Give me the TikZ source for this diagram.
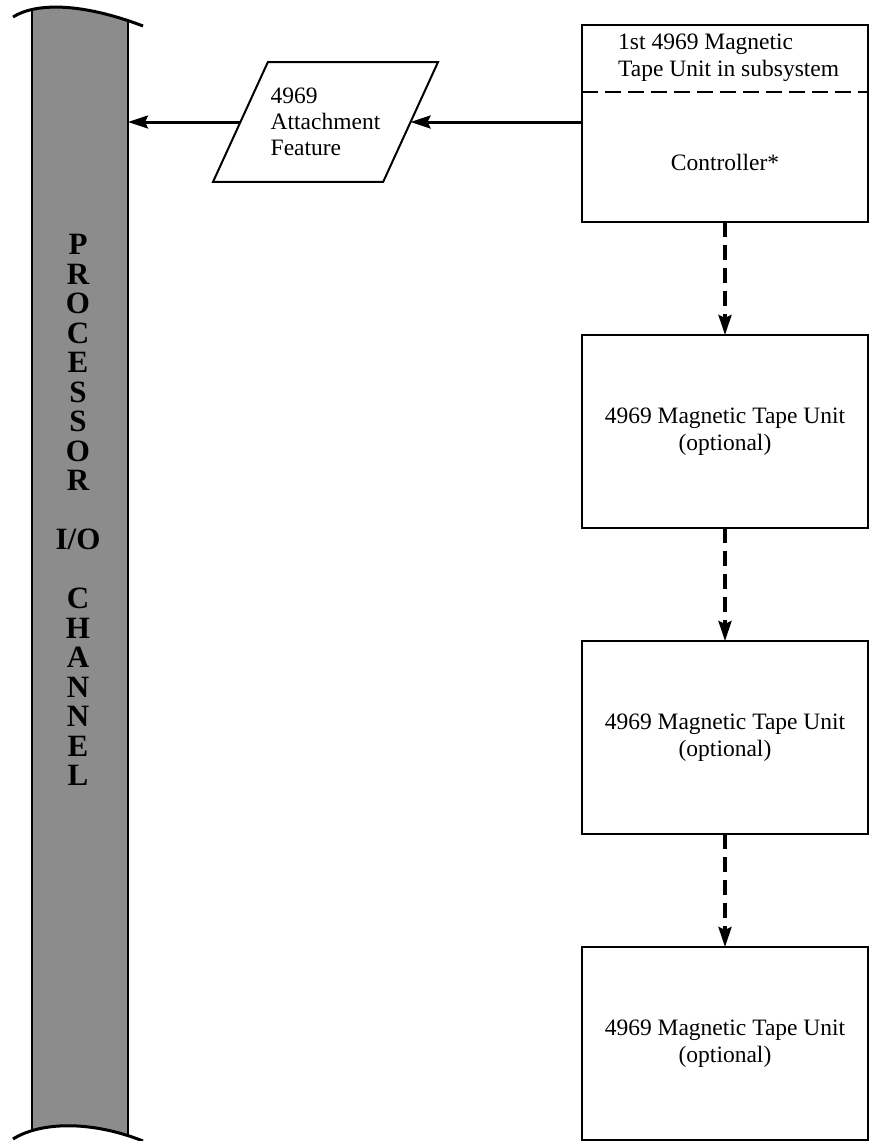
\documentclass[tikz,border=0pt]{standalone}
\usepackage{fontspec}
\setmainfont{Liberation Serif}
\usetikzlibrary{arrows.meta,positioning,calc,shapes.geometric}

\begin{document}
\begin{tikzpicture}[x=1pt, y=-1pt,
  ub/.style={draw, line width=2pt, minimum width=286pt, minimum height=193pt, inner sep=0pt, outer sep=0pt, align=center, font=\fontsize{23.5}{27}\selectfont},
  lbl/.style={inner sep=0pt, font=\fontsize{23.5}{27}\selectfont},
  pg/.style={draw, line width=2pt, trapezium, trapezium left angle=65.4, trapezium right angle=114.6, trapezium stretches body=true, minimum width=225pt, inner xsep=0pt, inner ysep=26pt, outer sep=0pt, align=left, font=\fontsize{23.5}{26}\selectfont},
  arr/.style={-{Stealth[length=20pt,width=13pt,inset=3pt]}, line width=3pt},
  darr/.style={arr, line width=3.5pt, dash pattern=on 15pt off 8pt}
]
\useasboundingbox (0,0) rectangle (869,1141);

% channel bar
\begin{scope}
  \clip (13,17) .. controls (35,3) and (80,2) .. (143,26) -- (143,1141) .. controls (90,1120) and (40,1122) .. (13,1139) -- cycle;
  \fill[black!45] (32,0) rectangle (128,1141);
  \draw[line width=2.2pt] (32,0) -- (32,1141) (128,0) -- (128,1141);
\end{scope}
\draw[line width=3pt] (13,17) .. controls (35,3) and (80,2) .. (143,26);
\draw[line width=3pt] (13,1139) .. controls (40,1122) and (90,1120) .. (143,1141);
\node[inner sep=0pt, align=center, font=\bfseries\fontsize{31}{29.5}\selectfont] (chtxt) at (78,510)
  {P\\R\\O\\C\\E\\S\\S\\O\\R\\[29.5pt]I/O\\[29.5pt]C\\H\\A\\N\\N\\E\\L};
\coordinate (chin) at (128,122);

% tape units
\node[ub, minimum height=197pt] (unit1) at (725,123.5) {};
\coordinate (splitL) at ([yshift=-67pt]unit1.north west);
\draw[line width=2.5pt, dash pattern=on 16pt off 7pt] (splitL) -- (splitL -| unit1.east);
\node[lbl, align=left, anchor=west] (hdr) at ([xshift=36pt, yshift=-33pt]unit1.north west) {1st 4969 Magnetic\\Tape Unit in subsystem};
\node[lbl] (ctl) at ($(splitL -| unit1.center)+(0,70)$) {Controller*};

\node[ub, below=113pt of unit1] (unit2) {4969 Magnetic Tape Unit\\(optional)};
\node[ub, below=113pt of unit2] (unit3) {4969 Magnetic Tape Unit\\(optional)};
\node[ub, below=113pt of unit3] (unit4) {4969 Magnetic Tape Unit\\(optional)};

% attachment feature
\node[pg] (feat) at (325.5,122) {4969\\Attachment\\Feature};

\draw[arr] (unit1.west |- feat.right side) -- (feat.right side);
\draw[arr] (feat.left side) -- (chin);
\draw[darr] (unit1) -- (unit2);
\draw[darr] (unit2) -- (unit3);
\draw[darr] (unit3) -- (unit4);
\end{tikzpicture}
\end{document}
